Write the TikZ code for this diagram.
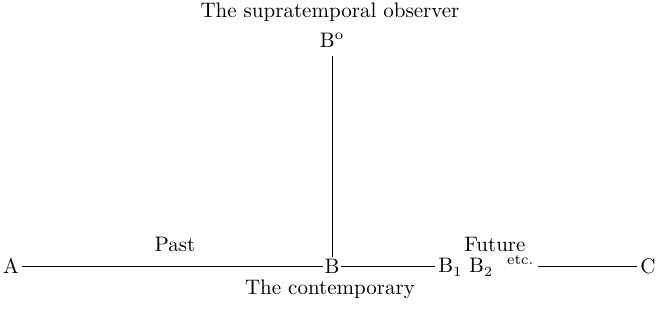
\documentclass[tikz,border=0pt]{standalone}
\usepackage{amsmath}
\usepackage{tikz}

\begin{document}
\begin{tikzpicture}[x=0.5pt,y=-0.5pt,
  every node/.style={font=\fontsize{10.5pt}{12pt}\selectfont},
  pt/.style={inner sep=1.5pt}]
\useasboundingbox (0,0) rectangle (658,322);
\node[pt] (top) at (330,12) {The supratemporal observer};
\node[pt,outer sep=3pt] (B0) at (332,40) {B$^{\text{o}}$};
\node[pt] (A) at (11,266) {A};
\node[pt,inner sep=0.5pt] (B) at (332,266) {B};
\node[pt,anchor=west] (B12) at (435,266) {B$_1$ B$_2$ \ $^{\text{etc.}}$};
\node[pt] (C) at (648,266) {C};
\draw (A) -- (B);
\draw (B) -- (B12);
\draw (B12) -- (C);
\draw (B0) -- (B);
\node (past) at (175,244) {Past};
\node (future) at (495,244) {Future};
\node (cont) at (330,289) {The contemporary};
\end{tikzpicture}
\end{document}
